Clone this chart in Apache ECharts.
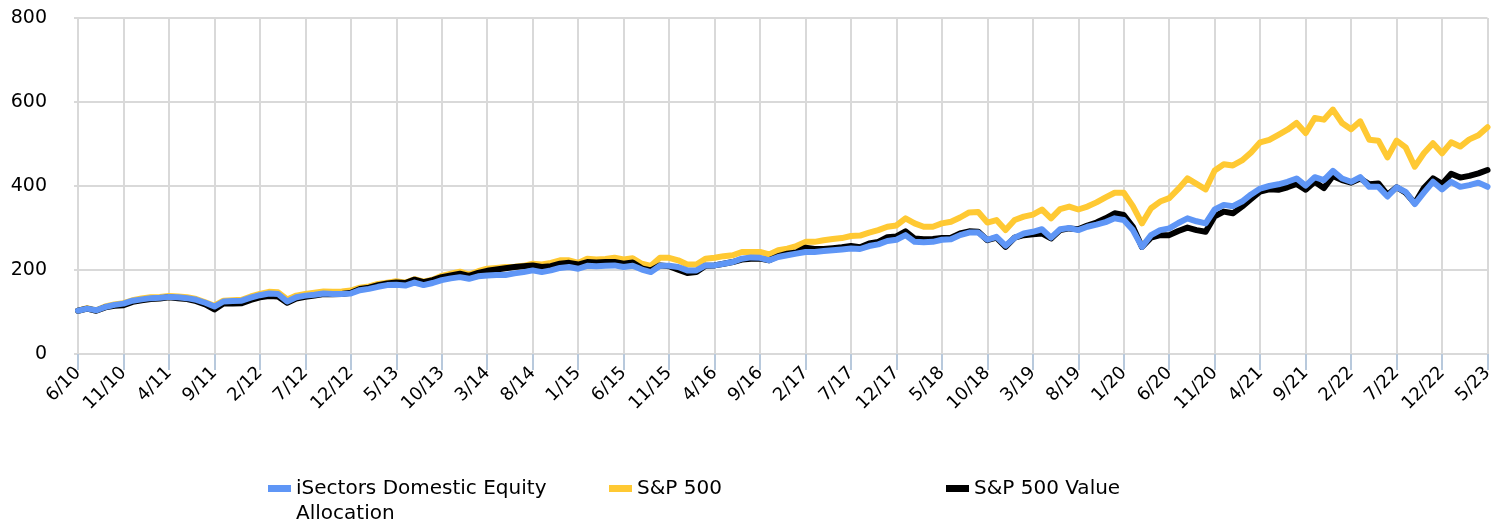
<!DOCTYPE html>
<html>
<head>
<meta charset="utf-8">
<script src="https://cdn.jsdelivr.net/npm/echarts@6/dist/echarts.min.js"></script>
<style>
    html, body { margin: 0; padding: 0; background: #fff; }
    #chart { width: 1496px; height: 521px; }
</style>
</head>
<body>
<div id="chart"></div>
<script>
// monthly categories 6/10 .. 5/23
var categories = [];
for (var i = 0; i < 156; i++) {
    var m = (5 + i) % 12 + 1;
    var y = 10 + Math.floor((5 + i) / 12);
    categories.push(m + '/' + y);
}

var yTicks = [0, 200, 400, 600, 800];

var seriesNames = ['iSectors Domestic Equity Allocation', 'S&P 500', 'S&P 500 Value'];

var isectors = [
    103, 108, 104, 112, 117, 120, 127, 130, 133, 134,
    136, 135, 133, 129, 122, 113, 125, 126, 127, 134,
    140, 144, 143, 125, 135, 139, 141, 144, 143, 143,
    144, 152, 155, 160, 164, 165, 163, 170, 164, 169,
    176, 180, 183, 179, 185, 187, 188, 188, 192, 195,
    199, 195, 199, 205, 207, 203, 210, 209, 210, 211,
    207, 210, 201, 195, 210, 210, 207, 199, 199, 211,
    211, 215, 219, 227, 230, 229, 223, 231, 235, 239,
    243, 243, 245, 247, 249, 251, 250, 257, 261, 269,
    272, 283, 267, 266, 267, 272, 273, 283, 289, 289,
    272, 279, 258, 277, 287, 291, 297, 277, 297, 300,
    295, 303, 308, 314, 323, 319, 295, 255, 283, 295,
    299, 312, 323, 316, 311, 344, 355, 352, 363, 380,
    394, 400, 404, 410, 418, 401, 421, 414, 436, 418,
    410, 421, 398, 398, 375, 397, 386, 357, 384, 410,
    392, 410, 398, 402, 408, 398
];

var sp500 = [
    103, 109, 104, 113, 118, 121, 128, 132, 135, 136,
    138, 137, 135, 131, 123, 115, 127, 128, 129, 137,
    143, 148, 147, 130, 139, 143, 146, 149, 148, 149,
    151, 158, 161, 167, 170, 173, 170, 178, 172, 177,
    186, 191, 196, 189, 197, 203, 205, 207, 208, 210,
    215, 213, 217, 223, 223, 217, 227, 225, 226, 229,
    225, 228, 215, 210, 229, 229, 223, 213, 213, 227,
    229, 233, 235, 243, 243, 243, 237, 247, 251, 257,
    267, 267, 271, 274, 276, 281, 282, 289, 295, 303,
    306, 323, 311, 303, 303, 311, 315, 325, 337, 338,
    313, 319, 295, 319, 327, 332, 344, 323, 345, 351,
    344, 351, 361, 373, 384, 384, 352, 311, 347, 363,
    371, 393, 418, 405, 392, 437, 452, 449, 461, 480,
    504, 510, 522, 534, 550, 526, 562, 558, 582, 550,
    535, 554, 510, 508, 468, 508, 492, 446, 478, 502,
    478, 504, 494, 511, 521, 540
];

var sp500Value = [
    103, 108, 103, 111, 115, 116, 124, 128, 131, 132,
    135, 133, 131, 126, 118, 106, 120, 120, 121, 129,
    135, 138, 137, 122, 132, 136, 139, 143, 142, 143,
    146, 155, 158, 164, 168, 170, 169, 177, 171, 176,
    183, 187, 191, 186, 193, 198, 201, 204, 207, 209,
    211, 207, 209, 215, 217, 213, 219, 218, 219, 219,
    215, 218, 204, 199, 211, 209, 201, 193, 195, 210,
    211, 215, 219, 225, 227, 227, 223, 233, 239, 242,
    253, 250, 250, 252, 254, 257, 254, 263, 267, 278,
    280, 292, 275, 273, 274, 276, 277, 287, 292, 291,
    271, 277, 255, 277, 283, 285, 287, 275, 295, 299,
    297, 306, 313, 323, 335, 331, 303, 255, 277, 283,
    283, 293, 301, 295, 291, 328, 339, 335, 351, 369,
    387, 392, 391, 397, 405, 391, 410, 395, 424, 414,
    408, 418, 404, 406, 379, 397, 384, 359, 395, 418,
    405, 429, 420, 424, 430, 438
];

var colors = ['#5f96f6', '#ffc933', '#000000'];

function makeLegend(idx, left, multi) {
    return {
        data: [seriesNames[idx]],
        left: left,
        top: multi ? 451 : 476,
        padding: 0,
        icon: 'rect',
        itemWidth: 23,
        itemHeight: 7,
        selectedMode: false,
        // blank first line keeps the icon beside the first line of text
        formatter: multi ? ' \niSectors Domestic Equity\nAllocation' : '{name}',
        textStyle: {
            fontFamily: 'DejaVu Sans',
            fontSize: 20,
            color: '#000',
            lineHeight: 25
        }
    };
}

function getChart() {
    var myChart = echarts.init(document.getElementById('chart'));
    var option = {
        backgroundColor: '#fff',
        animation: false,
        grid: { left: 78, right: 2, top: 18, bottom: 167 },
        legend: [
            makeLegend(0, 268, true),
            makeLegend(1, 609, false),
            makeLegend(2, 946, false)
        ],
        xAxis: {
            type: 'category',
            data: categories,
            boundaryGap: false,
            axisLine: { lineStyle: { color: '#d9d9d9', width: 2 } },
            axisTick: {
                interval: 4,
                length: 16,
                lineStyle: { color: '#b8c9dc', width: 2 }
            },
            axisLabel: {
                interval: 4,
                rotate: 45,
                margin: 16,
                fontFamily: 'DejaVu Sans',
                fontSize: 18,
                color: '#000'
            },
            splitLine: {
                show: true,
                interval: 4,
                lineStyle: { color: '#d9d9d9', width: 2 }
            }
        },
        yAxis: {
            type: 'value',
            min: yTicks[0],
            max: yTicks[yTicks.length - 1],
            interval: 200,
            axisLine: { show: true, lineStyle: { color: '#d9d9d9', width: 2 } },
            axisTick: { show: true, length: 4, lineStyle: { color: '#d9d9d9', width: 2 } },
            axisLabel: {
                margin: 31,
                fontFamily: 'DejaVu Sans',
                fontSize: 19,
                color: '#000'
            },
            splitLine: { lineStyle: { color: '#d9d9d9', width: 2 } }
        },
        series: [
            {
                name: seriesNames[0],
                type: 'line',
                data: isectors,
                z: 5,
                showSymbol: false,
                color: colors[0],
                lineStyle: { width: 6, color: colors[0], join: 'round', cap: 'round' }
            },
            {
                name: seriesNames[1],
                type: 'line',
                data: sp500,
                z: 3,
                showSymbol: false,
                color: colors[1],
                lineStyle: { width: 6, color: colors[1], join: 'round', cap: 'round' }
            },
            {
                name: seriesNames[2],
                type: 'line',
                data: sp500Value,
                z: 4,
                showSymbol: false,
                color: colors[2],
                lineStyle: { width: 6, color: colors[2], join: 'round', cap: 'round' }
            }
        ]
    };
    myChart.setOption(option);
}
getChart();
</script>
</body>
</html>
